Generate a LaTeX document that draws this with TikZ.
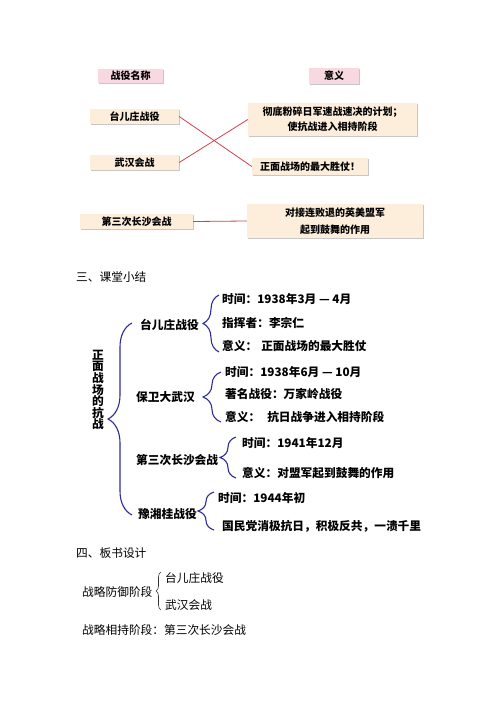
\documentclass[tikz,border=0pt]{standalone}
\usepackage{fontspec}
\setmainfont{Noto Sans CJK SC}
\usetikzlibrary{shadows,decorations.pathreplacing}
\definecolor{boxfill}{HTML}{FCEEDB}
\definecolor{pinkfill}{HTML}{F8D9E2}
\definecolor{redline}{HTML}{D0404F}
\definecolor{bracecol}{HTML}{2E2A9A}
\tikzset{
  boxstyle/.style={fill=boxfill, inner sep=0pt, font=\fontsize{10pt}{15pt}\selectfont\bfseries, align=center,
    drop shadow={shadow xshift=1.2pt, shadow yshift=-1.2pt, fill=black, opacity=0.22}},
  pinkbox/.style={boxstyle, fill=pinkfill},
  conn/.style={draw=redline, line width=0.8pt},
  mtext/.style={anchor=west, inner sep=0pt, font=\fontsize{11.7pt}{14pt}\selectfont\bfseries},
  ptext/.style={anchor=west, inner sep=0pt, font=\fontsize{11.7pt}{14pt}\selectfont},
  bbrace/.style={draw=bracecol, line width=1.1pt, decorate, decoration={brace, amplitude=#1}},
  kbrace/.style={draw=black!80, line width=0.6pt, decorate, decoration={brace, amplitude=#1}},
}
\begin{document}
\begin{tikzpicture}[x=1pt,y=1pt]
\useasboundingbox[fill=white] (0,0) rectangle (500,-707);

% ---------- top matching exercise ----------
\node[pinkbox, minimum width=65pt, minimum height=14pt] (hname) at (130.5,-76) {战役名称};
\node[pinkbox, minimum width=50pt, minimum height=16pt] (hmean) at (334,-76) {意义};

\node[boxstyle, minimum width=89pt, minimum height=15pt] (tai) at (134.5,-116.5) {台儿庄战役};
\node[boxstyle, minimum width=89pt, minimum height=15pt] (wu) at (134.5,-162.5) {武汉会战};
\node[boxstyle, minimum width=113pt, minimum height=15pt] (san) at (136.5,-221.5) {第三次长沙会战};

\node[boxstyle, minimum width=169pt, minimum height=33pt] (m1) at (332.5,-119.5) {彻底粉碎日军速战速决的计划；\\使抗战进入相持阶段};
\node[boxstyle, minimum width=116pt, minimum height=17pt] (m2) at (310,-166.5) {正面战场的最大胜仗！};
\node[boxstyle, minimum width=176pt, minimum height=34pt, font=\fontsize{10pt}{17.5pt}\selectfont\bfseries] (m3) at (335,-221) {对接连败退的英美盟军\\起到鼓舞的作用};

\draw[conn] (tai.east) -- (m2.west);
\draw[conn] (wu.east) -- (m1.west);
\draw[conn] (san.east) -- (m3.west);

% ---------- section three ----------
\node[ptext] (sec3) at (76,-277) {三、课堂小结};

\node[inner sep=0pt, align=center, font=\fontsize{11.7pt}{11.6pt}\selectfont\bfseries] (root) at (98,-390) {正\\面\\战\\场\\的\\抗\\战};
\draw[bbrace=24pt] (132,-515) -- (132,-323);

\node[mtext] (b1) at (140,-325) {台儿庄战役};
\node[mtext] (b2) at (136,-397) {保卫大武汉};
\node[mtext] (b3) at (136,-460) {第三次长沙会战};
\node[mtext] (b4) at (138,-514) {豫湘桂战役};

\draw[bbrace=16pt] (219,-352) -- (219,-295);
\draw[bbrace=18pt] (221,-422) -- (221,-372);
\draw[bbrace=16pt] (236,-478) -- (236,-437);
\draw[bbrace=16pt] (214,-530) -- (214,-492);

\node[mtext] (b1a) at (222,-299) {时间：1938年3月 — 4月};
\node[mtext] (b1b) at (222,-323) {指挥者：李宗仁};
\node[mtext] (b1c) at (222,-346) {意义：\hspace{4pt}正面战场的最大胜仗};

\node[mtext] (b2a) at (225,-372) {时间：1938年6月 — 10月};
\node[mtext] (b2b) at (225,-394) {著名战役：万家岭战役};
\node[mtext] (b2c) at (225,-417) {意义：\hspace{7pt}抗日战争进入相持阶段};

\node[mtext] (b3a) at (242,-443) {时间：1941年12月};
\node[mtext] (b3b) at (242,-473) {意义：对盟军起到鼓舞的作用};

\node[mtext] (b4a) at (218,-498) {时间：1944年初};
\node[mtext] (b4b) at (222,-526) {国民党消极抗日，积极反共，一溃千里};

% ---------- section four ----------
\node[ptext] (sec4) at (76,-553) {四、板书设计};
\node[ptext] (d1) at (82,-592) {战略防御阶段};
\draw[kbrace=5pt] (161,-610) -- (161,-572);
\node[ptext] (d1a) at (165,-578) {台儿庄战役};
\node[ptext] (d1b) at (165,-605) {武汉会战};
\node[ptext] (d2) at (82,-630) {战略相持阶段：第三次长沙会战};
\end{tikzpicture}
\end{document}
